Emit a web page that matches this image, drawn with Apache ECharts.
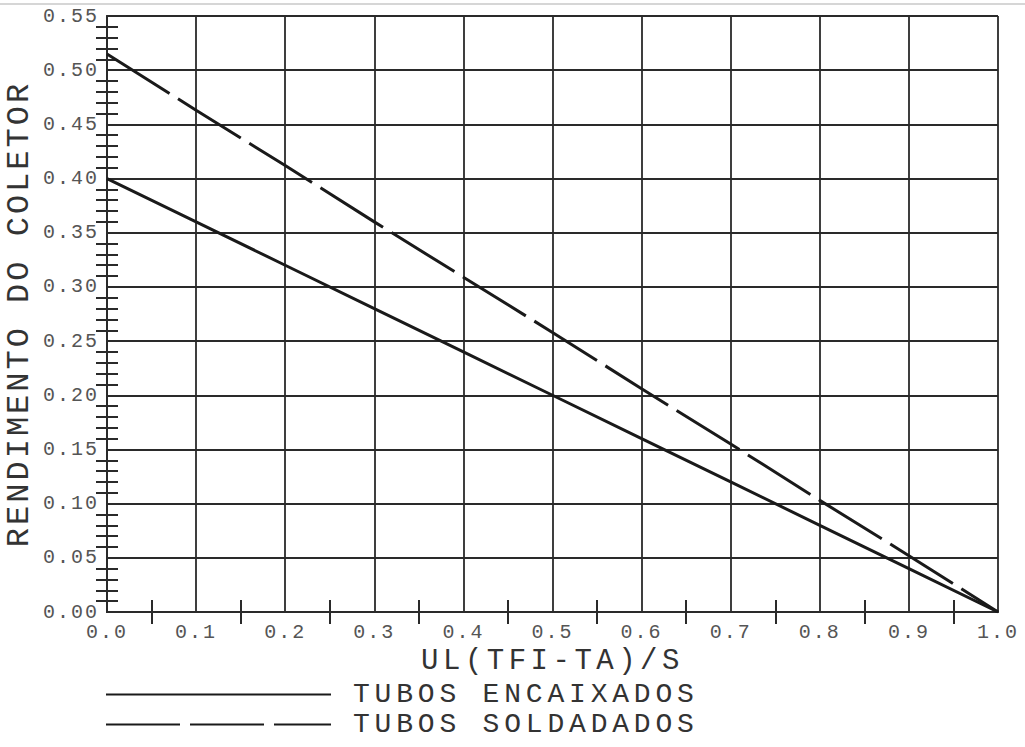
<!DOCTYPE html>
<html>
<head>
<meta charset="utf-8">
<script src="https://cdn.jsdelivr.net/npm/echarts@6/dist/echarts.min.js"></script>
<style>
  html, body { margin: 0; padding: 0; background: #fff; }
  #chart { width: 1025px; height: 747px; }
  text[style*="20px"] { letter-spacing: 2px; }
  text[style*="32px"] { letter-spacing: 3px; }
  text[style*="29px"] { letter-spacing: 4.5px; }
  text[style*="28px"] { letter-spacing: 4.8px; }
</style>
</head>
<body>
<div id="chart"></div>
<script>
const xValues = [0.0, 0.1, 0.2, 0.3, 0.4, 0.5, 0.6, 0.7, 0.8, 0.9, 1.0];
const encaixados = [0.40, 0.36, 0.32, 0.28, 0.24, 0.20, 0.16, 0.12, 0.08, 0.04, 0.00];
const soldadados = [0.515, 0.463, 0.412, 0.360, 0.309, 0.258, 0.206, 0.155, 0.103, 0.052, 0.00];
const seriesNames = ['TUBOS ENCAIXADOS', 'TUBOS SOLDADADOS'];
const xTitle = 'UL(TFI-TA)/S';
const yTitle = 'RENDIMENTO DO COLETOR';

const ink = '#1a1a1a';
const gridColor = '#2a2a2a';
const font = '"Liberation Mono", "DejaVu Sans Mono", monospace';

function pairs(xs, ys) { return xs.map((x, i) => [x, ys[i]]); }

const chart = echarts.init(document.getElementById('chart'), null, { renderer: 'svg' });

const baseX = {
  type: 'value', min: 0, max: 1, interval: 0.1,
  axisLine: { show: true, lineStyle: { color: gridColor, width: 2 } },
  axisTick: { show: false },
  minorTick: { show: true, splitNumber: 2, length: 12, lineStyle: { color: gridColor, width: 2 } },
  splitLine: { show: true, lineStyle: { color: gridColor, width: 1.8 } }
};
const baseY = {
  type: 'value', min: 0, max: 0.55, interval: 0.05,
  axisLine: { show: true, lineStyle: { color: gridColor, width: 2 } },
  axisTick: { show: false },
  minorTick: { show: true, splitNumber: 5, length: 11, lineStyle: { color: gridColor, width: 2 } },
  splitLine: { show: true, lineStyle: { color: gridColor, width: 1.8 } }
};

chart.setOption({
  animation: false,
  backgroundColor: '#fff',
  grid: { left: 107, right: 27, top: 16, bottom: 135, containLabel: false, outerBoundsMode: 'none' },
  graphic: [{
    type: 'line', shape: { x1: 0, y1: 4, x2: 1025, y2: 4 },
    style: { stroke: '#d6d6d6', lineWidth: 2 }, silent: true
  }],
  xAxis: [
    Object.assign({}, baseX, {
      position: 'bottom',
      name: xTitle, nameLocation: 'middle', nameGap: 33,
      nameTextStyle: { fontFamily: font, fontSize: 29, color: '#333' },
      axisLabel: {
        show: true, margin: 10, color: '#555', fontFamily: font, fontSize: 20,
        formatter: v => v.toFixed(1)
      }
    }),
    Object.assign({}, baseX, {
      position: 'top',
      axisLabel: { show: false },
      splitLine: { show: false }
    })
  ],
  yAxis: [
    Object.assign({}, baseY, {
      position: 'left',
      name: yTitle, nameLocation: 'middle', nameGap: 72, nameRotate: 90,
      nameTextStyle: { fontFamily: font, fontSize: 32, color: '#333' },
      axisLabel: {
        show: true, margin: 8, color: '#555', fontFamily: font, fontSize: 20,
        formatter: v => v.toFixed(2)
      }
    }),
    Object.assign({}, baseY, {
      position: 'right',
      axisLabel: { show: false },
      splitLine: { show: false }
    })
  ],
  legend: {
    orient: 'vertical', left: 105, top: 680,
    itemWidth: 225, itemHeight: 14, itemGap: 1, padding: 0,
    itemStyle: { color: 'rgba(0,0,0,0)', borderWidth: 0, opacity: 0 },
    textStyle: { fontFamily: font, fontSize: 28, lineHeight: 29, color: '#333', padding: [0, 0, 0, 17] },
    data: seriesNames
  },
  series: [
    {
      name: seriesNames[0], type: 'line', xAxisIndex: 0, yAxisIndex: 0,
      data: pairs(xValues, encaixados),
      symbol: 'none', showSymbol: false,
      lineStyle: { color: ink, width: 3, type: 'solid' },
      itemStyle: { color: ink }
    },
    {
      name: seriesNames[1], type: 'line', xAxisIndex: 0, yAxisIndex: 0,
      data: pairs(xValues, soldadados),
      symbol: 'none', showSymbol: false,
      lineStyle: { color: ink, width: 3, type: [74, 10] },
      itemStyle: { color: ink }
    }
  ]
});
</script>
</body>
</html>
